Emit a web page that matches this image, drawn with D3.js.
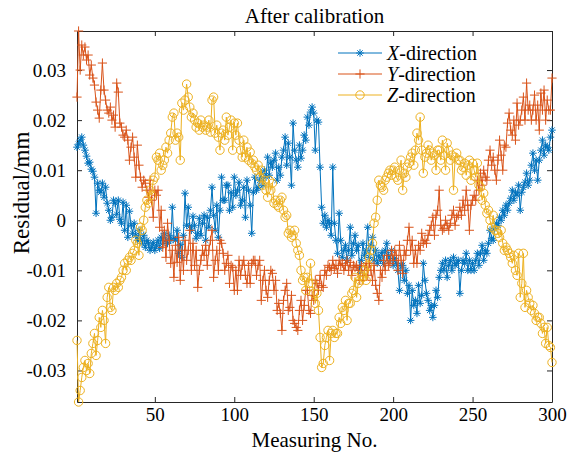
<!DOCTYPE html>
<html>
<head>
<meta charset="utf-8">
<script src="https://cdn.jsdelivr.net/npm/d3@7"></script>
<style>
	body { margin: 0; background: #fff; }
	text { font-family: "Liberation Serif", "Times New Roman", serif; fill: #000; }
</style>
</head>
<body>
<div id="chart"></div>
<script>
// Residuals after calibration, measuring no. 1..300 (mm)
const xDir = [
	0.0146, 0.0152, 0.0160, 0.0166, 0.0150, 0.0140, 0.0128, 0.0114, 0.0116, 0.0102,
	0.0098, 0.0086, 0.0014, 0.0074, 0.0060, 0.0056, 0.0074, 0.0046, 0.0066, 0.0034,
	0.0020, 0.0000, 0.0006, 0.0040, 0.0034, 0.0012, 0.0040, 0.0002, -0.0006, 0.0036,
	-0.0020, 0.0030, -0.0034, 0.0018, -0.0010, -0.0026, -0.0006, -0.0030, -0.0040, -0.0020,
	-0.0036, -0.0046, -0.0030, -0.0054, -0.0040, -0.0046, -0.0060, -0.0054, -0.0044, -0.0060,
	-0.0050, -0.0040, -0.0056, -0.0034, -0.0046, -0.0026, -0.0040, -0.0046, -0.0030, -0.0040,
	0.0026, -0.0036, -0.0040, -0.0020, -0.0066, -0.0048, -0.0074, -0.0030, 0.0054, -0.0010,
	0.0026, -0.0012, -0.0020, 0.0008, -0.0010, -0.0036, -0.0026, 0.0004, -0.0030, -0.0006,
	0.0010, -0.0040, 0.0006, -0.0014, 0.0020, 0.0066, 0.0010, -0.0020, 0.0030, -0.0034,
	0.0020, 0.0086, 0.0040, 0.0040, 0.0070, 0.0070, 0.0020, 0.0056, 0.0026, 0.0086,
	0.0050, 0.0060, 0.0076, 0.0030, 0.0040, 0.0066, 0.0006, 0.0080, 0.0060, 0.0030,
	-0.0026, 0.0056, 0.0086, 0.0060, 0.0066, 0.0080, 0.0094, 0.0070, 0.0100, 0.0086,
	0.0126, 0.0090, 0.0116, 0.0106, 0.0120, 0.0134, 0.0080, 0.0106, 0.0090, 0.0126,
	0.0140, 0.0166, 0.0110, 0.0154, 0.0126, 0.0070, 0.0194, 0.0140, 0.0120, 0.0106,
	0.0150, 0.0124, 0.0140, 0.0170, 0.0160, 0.0206, 0.0190, 0.0216, 0.0226, 0.0214,
	0.0140, 0.0200, 0.0196, 0.0106, 0.0026, -0.0006, 0.0010, -0.0014, 0.0000, -0.0006,
	-0.0030, 0.0106, -0.0006, -0.0040, -0.0066, 0.0014, -0.0040, -0.0074, -0.0060, -0.0050,
	-0.0080, -0.0060, -0.0014, -0.0070, -0.0046, -0.0030, -0.0060, -0.0050, -0.0100, -0.0080,
	-0.0046, -0.0070, -0.0060, -0.0014, -0.0074, -0.0050, -0.0034, -0.0080, -0.0060, -0.0086,
	-0.0070, -0.0080, -0.0064, -0.0086, -0.0060, -0.0046, -0.0070, -0.0080, -0.0060, -0.0090,
	-0.0076, -0.0086, -0.0100, -0.0140, -0.0090, -0.0090, -0.0120, -0.0100, -0.0146, -0.0130,
	-0.0200, -0.0140, -0.0170, -0.0160, -0.0186, -0.0130, -0.0166, -0.0150, -0.0086, -0.0120,
	-0.0146, -0.0160, -0.0180, -0.0170, -0.0194, -0.0170, -0.0140, -0.0154, -0.0114, -0.0100,
	-0.0086, -0.0100, -0.0080, -0.0114, -0.0090, -0.0080, -0.0100, -0.0074, -0.0090, -0.0086,
	-0.0080, -0.0146, -0.0100, -0.0080, -0.0086, -0.0066, -0.0100, -0.0080, -0.0100, -0.0086,
	-0.0100, -0.0080, -0.0066, -0.0090, -0.0066, -0.0050, -0.0080, -0.0060, -0.0066, -0.0046,
	-0.0020, -0.0036, -0.0040, -0.0016, -0.0006, -0.0010, 0.0006, 0.0000, 0.0020, 0.0010,
	0.0030, 0.0020, 0.0034, 0.0044, 0.0060, 0.0040, 0.0056, 0.0050, 0.0070, 0.0020,
	0.0056, 0.0066, 0.0076, 0.0094, 0.0070, 0.0080, 0.0110, 0.0134, 0.0100, 0.0120,
	0.0080, 0.0120, 0.0140, 0.0160, 0.0130, 0.0150, 0.0146, 0.0140, 0.0166, 0.0180
];

const yDir = [
	0.0246, 0.0378, 0.0300, 0.0350, 0.0330, 0.0346, 0.0320, 0.0330, 0.0290, 0.0310,
	0.0284, 0.0270, 0.0236, 0.0220, 0.0204, 0.0260, 0.0314, 0.0260, 0.0240, 0.0220,
	0.0214, 0.0226, 0.0200, 0.0210, 0.0186, 0.0274, 0.0256, 0.0194, 0.0186, 0.0170,
	0.0166, 0.0180, 0.0160, 0.0120, 0.0146, 0.0166, 0.0126, 0.0086, 0.0150, 0.0110,
	0.0086, 0.0066, 0.0080, 0.0074, 0.0060, 0.0046, 0.0080, 0.0040, 0.0006, 0.0060,
	0.0050, 0.0060, -0.0014, 0.0020, -0.0054, -0.0020, -0.0074, -0.0006, -0.0040, -0.0086,
	-0.0060, -0.0114, -0.0050, -0.0084, -0.0034, -0.0120, -0.0060, -0.0100, -0.0040, -0.0080,
	-0.0060, -0.0020, -0.0100, -0.0046, -0.0090, -0.0060, -0.0134, -0.0100, -0.0080, -0.0060,
	-0.0070, -0.0050, -0.0090, -0.0060, -0.0040, -0.0020, -0.0114, -0.0080, -0.0060, -0.0100,
	-0.0040, -0.0046, -0.0066, -0.0100, -0.0086, -0.0070, -0.0126, -0.0090, -0.0094, -0.0140,
	-0.0100, -0.0140, -0.0080, -0.0110, -0.0090, -0.0080, -0.0110, -0.0126, -0.0090, -0.0126,
	-0.0086, -0.0080, -0.0080, -0.0110, -0.0090, -0.0080, -0.0160, -0.0120, -0.0100, -0.0140,
	-0.0154, -0.0120, -0.0100, -0.0106, -0.0140, -0.0120, -0.0180, -0.0166, -0.0186, -0.0220,
	-0.0160, -0.0140, -0.0126, -0.0180, -0.0174, -0.0150, -0.0200, -0.0206, -0.0214, -0.0220,
	-0.0180, -0.0160, -0.0200, -0.0170, -0.0140, -0.0140, -0.0180, -0.0186, -0.0150, -0.0160,
	-0.0120, -0.0126, -0.0140, -0.0110, -0.0130, -0.0134, -0.0100, -0.0110, -0.0090, -0.0094,
	-0.0100, -0.0080, -0.0096, -0.0090, -0.0106, -0.0080, -0.0090, -0.0086, -0.0100, -0.0090,
	-0.0080, -0.0100, -0.0084, -0.0110, -0.0090, -0.0094, -0.0090, -0.0100, -0.0120, -0.0090,
	-0.0120, -0.0100, -0.0086, -0.0110, -0.0086, -0.0100, -0.0120, -0.0090, -0.0130, -0.0146,
	-0.0160, -0.0100, -0.0114, -0.0080, -0.0100, -0.0070, -0.0090, -0.0086, -0.0060, -0.0080,
	-0.0060, -0.0070, -0.0100, -0.0050, -0.0080, -0.0106, -0.0060, -0.0070, -0.0040, -0.0014,
	-0.0060, -0.0040, -0.0086, -0.0060, -0.0086, -0.0050, -0.0060, -0.0026, -0.0046, -0.0040,
	-0.0046, -0.0030, -0.0020, -0.0010, 0.0006, -0.0030, 0.0010, 0.0020, 0.0060, -0.0010,
	-0.0020, -0.0016, 0.0000, -0.0010, -0.0020, -0.0006, 0.0010, 0.0020, -0.0010, 0.0006,
	0.0010, 0.0026, 0.0010, 0.0040, 0.0020, 0.0060, 0.0030, -0.0020, 0.0030, 0.0040,
	0.0050, 0.0040, 0.0080, 0.0060, 0.0094, 0.0070, 0.0100, 0.0086, 0.0080, 0.0120,
	0.0140, 0.0110, 0.0126, 0.0100, 0.0080, 0.0120, 0.0160, 0.0130, 0.0100, 0.0150,
	0.0146, 0.0194, 0.0214, 0.0180, 0.0170, 0.0200, 0.0160, 0.0234, 0.0190, 0.0200,
	0.0220, 0.0246, 0.0200, 0.0274, 0.0220, 0.0230, 0.0200, 0.0220, 0.0250, 0.0200,
	0.0230, 0.0180, 0.0254, 0.0220, 0.0260, 0.0200, 0.0240, 0.0220, 0.0220, 0.0284
];

const zDir = [
	-0.0240, -0.0363, -0.0340, -0.0314, -0.0294, -0.0280, -0.0300, -0.0286, -0.0306, -0.0266,
	-0.0246, -0.0226, -0.0270, -0.0240, -0.0194, -0.0214, -0.0180, -0.0200, -0.0246, -0.0154,
	-0.0134, -0.0174, -0.0180, -0.0134, -0.0140, -0.0126, -0.0134, -0.0120, -0.0114, -0.0100,
	-0.0086, -0.0100, -0.0080, -0.0074, -0.0080, -0.0066, -0.0060, -0.0040, -0.0046, -0.0070,
	-0.0014, -0.0020, 0.0000, 0.0026, 0.0040, 0.0034, 0.0060, 0.0050, 0.0080, 0.0086,
	0.0126, 0.0120, 0.0134, 0.0100, 0.0110, 0.0120, 0.0146, 0.0134, 0.0160, 0.0174,
	0.0206, 0.0214, 0.0160, 0.0174, 0.0166, 0.0120, 0.0234, 0.0220, 0.0240, 0.0272,
	0.0246, 0.0226, 0.0206, 0.0214, 0.0200, 0.0186, 0.0194, 0.0180, 0.0200, 0.0186,
	0.0190, 0.0180, 0.0186, 0.0200, 0.0176, 0.0240, 0.0246, 0.0174, 0.0190, 0.0166,
	0.0140, 0.0174, 0.0180, 0.0160, 0.0206, 0.0170, 0.0186, 0.0200, 0.0140, 0.0194,
	0.0170, 0.0194, 0.0160, 0.0140, 0.0126, 0.0160, 0.0126, 0.0146, 0.0120, 0.0136,
	0.0114, 0.0120, 0.0106, 0.0100, 0.0110, 0.0086, 0.0100, 0.0070, 0.0080, 0.0060,
	0.0046, 0.0080, 0.0060, 0.0074, 0.0034, 0.0040, 0.0030, 0.0026, 0.0040, 0.0046,
	0.0020, 0.0006, 0.0010, -0.0026, -0.0020, -0.0034, -0.0030, -0.0020, -0.0046, -0.0060,
	-0.0070, -0.0100, -0.0120, -0.0114, -0.0140, -0.0114, -0.0126, -0.0086, -0.0126, -0.0146,
	-0.0166, -0.0146, -0.0180, -0.0234, -0.0294, -0.0286, -0.0250, -0.0234, -0.0220, -0.0280,
	-0.0226, -0.0220, -0.0234, -0.0226, -0.0226, -0.0194, -0.0206, -0.0174, -0.0180, -0.0160,
	-0.0200, -0.0166, -0.0166, -0.0146, -0.0140, -0.0114, -0.0154, -0.0126, -0.0120, -0.0110,
	-0.0114, -0.0100, -0.0120, -0.0090, -0.0074, -0.0060, -0.0046, -0.0006, 0.0006, 0.0040,
	0.0080, 0.0070, 0.0066, 0.0060, 0.0080, 0.0086, 0.0094, 0.0100, 0.0090, 0.0100,
	0.0106, 0.0086, 0.0080, 0.0100, 0.0120, 0.0060, 0.0094, 0.0086, 0.0106, 0.0114,
	0.0126, 0.0134, 0.0110, 0.0140, 0.0174, 0.0160, 0.0206, 0.0140, 0.0094, 0.0126,
	0.0134, 0.0150, 0.0140, 0.0120, 0.0134, 0.0130, 0.0100, 0.0140, 0.0140, 0.0120,
	0.0160, 0.0130, 0.0100, 0.0154, 0.0140, 0.0120, 0.0130, 0.0060, 0.0126, 0.0134,
	0.0120, 0.0120, 0.0100, 0.0106, 0.0114, 0.0090, 0.0110, 0.0120, 0.0080, 0.0114,
	0.0100, 0.0086, 0.0114, 0.0070, 0.0066, 0.0040, 0.0054, 0.0030, 0.0014, 0.0020,
	0.0000, -0.0014, 0.0010, -0.0020, -0.0020, -0.0026, -0.0034, -0.0020, -0.0046, -0.0060,
	-0.0054, -0.0060, -0.0066, -0.0074, -0.0086, -0.0070, -0.0100, -0.0110, -0.0066, -0.0154,
	-0.0126, -0.0066, -0.0174, -0.0140, -0.0154, -0.0166, -0.0180, -0.0170, -0.0186, -0.0200,
	-0.0194, -0.0194, -0.0206, -0.0226, -0.0214, -0.0246, -0.0214, -0.0250, -0.0254, -0.0284
];

const seriesNames = ["X", "Y", "Z"];
const xTicks = [50, 100, 150, 200, 250, 300];
const yTicks = [-0.03, -0.02, -0.01, 0, 0.01, 0.02, 0.03];

drawChart();

// marker paths, MATLAB style '*', '+', 'o'
function markerPath(type) {
	if (type === "star") {
		const s = 3.8, a = 2.7;
		return `M${-s},0L${s},0M0,${-s}L0,${s}M${-a},${-a}L${a},${a}M${-a},${a}L${a},${-a}`;
	}
	if (type === "plus") {
		const s = 4.6;
		return `M${-s},0L${s},0M0,${-s}L0,${s}`;
	}
	const r = 4.2;
	return `M${r},0A${r},${r} 0 1,1 ${-r},0A${r},${r} 0 1,1 ${r},0Z`;
}

function drawChart() {
	const width = 567;
	const height = 455;
	const margin = {top: 31, right: 15, bottom: 53, left: 77};
	const chartWidth = width - margin.left - margin.right;
	const chartHeight = height - margin.top - margin.bottom;

	const series = [
		{name: seriesNames[0], values: xDir, color: '#0072BD', marker: 'star'},
		{name: seriesNames[1], values: yDir, color: '#D95319', marker: 'plus'},
		{name: seriesNames[2], values: zDir, color: '#EDB120', marker: 'circle'}
	];

	const xScale = d3.scaleLinear()
		.domain([1, xDir.length])
		.range([0, chartWidth]);

	const yScale = d3.scaleLinear()
		.domain(d3.extent(xDir.concat(yDir, zDir)))
		.range([chartHeight, 0]);

	const svg = d3.select('#chart')
		.append('svg')
		.attr('width', width)
		.attr('height', height);

	const canvas = svg.append('g')
		.attr('transform', `translate(${margin.left}, ${margin.top})`);

	const axisColor = '#262626';
	const tickFmt = (d) => String(d);

	// axes with inward ticks on all four sides
	const bottomAxis = canvas.append('g')
		.attr('transform', `translate(0, ${chartHeight})`)
		.call(d3.axisBottom(xScale).tickValues(xTicks).tickSizeInner(-5).tickSizeOuter(0).tickPadding(6).tickFormat(tickFmt));
	const topAxis = canvas.append('g')
		.call(d3.axisTop(xScale).tickValues(xTicks).tickSizeInner(-5).tickSizeOuter(0).tickFormat(''));
	const leftAxis = canvas.append('g')
		.call(d3.axisLeft(yScale).tickValues(yTicks).tickSizeInner(-5).tickSizeOuter(0).tickPadding(11).tickFormat(tickFmt));
	const rightAxis = canvas.append('g')
		.attr('transform', `translate(${chartWidth}, 0)`)
		.call(d3.axisRight(yScale).tickValues(yTicks).tickSizeInner(-5).tickSizeOuter(0).tickFormat(''));

	[bottomAxis, topAxis, leftAxis, rightAxis].forEach((ax) => {
		ax.select('.domain').attr('stroke', axisColor).attr('stroke-width', 1);
		ax.selectAll('.tick line').attr('stroke', axisColor).attr('stroke-width', 1);
		ax.selectAll('.tick text')
			.attr('font-family', '"Liberation Serif", serif')
			.attr('font-size', 19)
			.attr('fill', '#000');
	});

	// lines and markers
	const line = d3.line()
		.x((d, i) => xScale(i + 1))
		.y((d) => yScale(d));

	series.forEach((s) => {
		const g = canvas.append('g');
		g.append('path')
			.datum(s.values)
			.attr('d', line)
			.attr('fill', 'none')
			.attr('stroke', s.color)
			.attr('stroke-width', 1);
		g.selectAll('path.mk')
			.data(s.values)
			.enter()
				.append('path')
					.attr('class', 'mk')
					.attr('transform', (d, i) => `translate(${xScale(i + 1)}, ${yScale(d)})`)
					.attr('d', markerPath(s.marker))
					.attr('fill', 'none')
					.attr('stroke', s.color)
					.attr('stroke-width', 1);
	});

	// title and axis labels
	svg.append('text')
		.attr('x', margin.left + chartWidth / 2)
		.attr('y', 23)
		.attr('text-anchor', 'middle')
		.attr('font-size', 21)
		.text("After calibration");

	svg.append('text')
		.attr('x', margin.left + chartWidth / 2)
		.attr('y', 447)
		.attr('text-anchor', 'middle')
		.attr('font-size', 21)
		.text("Measuring No.");

	svg.append('text')
		.attr('transform', 'translate(29, 193) rotate(-90)')
		.attr('text-anchor', 'middle')
		.attr('font-size', 23)
		.text("Residual/mm");

	// legend
	const legend = svg.append('g');
	series.forEach((s, i) => {
		const y = 53 + i * 21;
		legend.append('line')
			.attr('x1', 338).attr('x2', 382)
			.attr('y1', y).attr('y2', y)
			.attr('stroke', s.color)
			.attr('stroke-width', 1);
		legend.append('path')
			.attr('transform', `translate(360, ${y})`)
			.attr('d', markerPath(s.marker))
			.attr('fill', 'none')
			.attr('stroke', s.color)
			.attr('stroke-width', 1);
		const t = legend.append('text')
			.attr('x', 387)
			.attr('y', y + 7)
			.attr('font-size', 20);
		t.append('tspan').attr('font-style', 'italic').text(s.name);
		t.append('tspan').text("-direction");
	});
}
</script>
</body>
</html>
